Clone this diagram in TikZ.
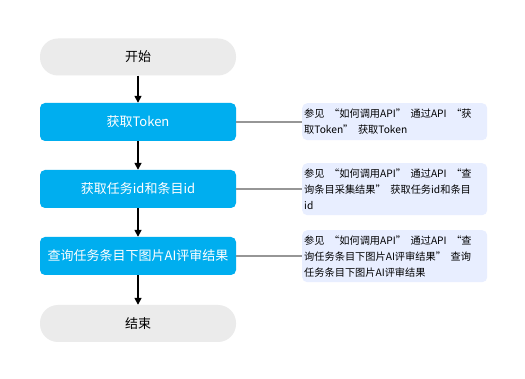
\documentclass[tikz,border=0pt]{standalone}
\usepackage{fontspec}
\setmainfont{Noto Sans CJK SC}
\newcommand\zqopen{\kern0.45em“}
\newcommand\zqclose{”\kern0.45em}
\usetikzlibrary{arrows.meta}
\definecolor{stepblue}{RGB}{0,174,239}
\definecolor{termgray}{RGB}{235,235,235}
\definecolor{noteblue}{RGB}{232,238,255}
\definecolor{linkgray}{RGB}{150,150,150}
\tikzset{
  term/.style={rectangle, rounded corners=18pt, fill=termgray, minimum width=196pt, minimum height=37pt, font=\fontsize{13}{15}\selectfont, text=black, inner sep=0pt},
  stepbox/.style={rectangle, rounded corners=5pt, fill=stepblue, minimum width=196pt, minimum height=38pt, font=\fontsize{13}{15}\selectfont, text=white, inner sep=0pt},
  note/.style={rectangle, rounded corners=5pt, fill=noteblue, anchor=north west, minimum width=185pt, text width=181pt, align=left, inner xsep=2pt, inner ysep=3pt, font=\fontsize{10.2}{16}\selectfont, text=black},
  flow/.style={-{Triangle[length=7pt,width=7pt]}, line width=1.6pt, black},
  link/.style={line width=1.5pt, linkgray}
}
\begin{document}
\begin{tikzpicture}[x=1pt,y=-1pt]
\useasboundingbox[fill=white] (0,0) rectangle (525,379);
\node[term] (start) at (138,57) {开始};
\node[stepbox] (token) at (138,122) {获取Token};
\node[stepbox] (task) at (138,189) {获取任务id和条目id};
\node[stepbox] (query) at (138,256) {查询任务条目下图片AI评审结果};
\node[term] (end) at (138,323.5) {结束};
\draw[flow] (start) -- (token);
\draw[flow] (token) -- (task);
\draw[flow] (task) -- (query);
\draw[flow] (query) -- (end);
\node[note, minimum height=37pt] (n1) at (302,103) {参见\zqopen 如何调用API\zqclose 通过API\zqopen 获\\取Token\zqclose 获取Token};
\node[note, minimum height=52pt] (n2) at (302,163) {参见\zqopen 如何调用API\zqclose 通过API\zqopen 查\\询条目采集结果\zqclose 获取任务id和条目\\id};
\node[note, minimum height=52pt] (n3) at (302,230) {参见\zqopen 如何调用API\zqclose 通过API\zqopen 查\\询任务条目下图片AI评审结果\zqclose 查询\\任务条目下图片AI评审结果};
\draw[link] (token.east) -- (token.east -| n1.west);
\draw[link] (task.east) -- (task.east -| n2.west);
\draw[link] (query.east) -- (query.east -| n3.west);
\end{tikzpicture}
\end{document}
